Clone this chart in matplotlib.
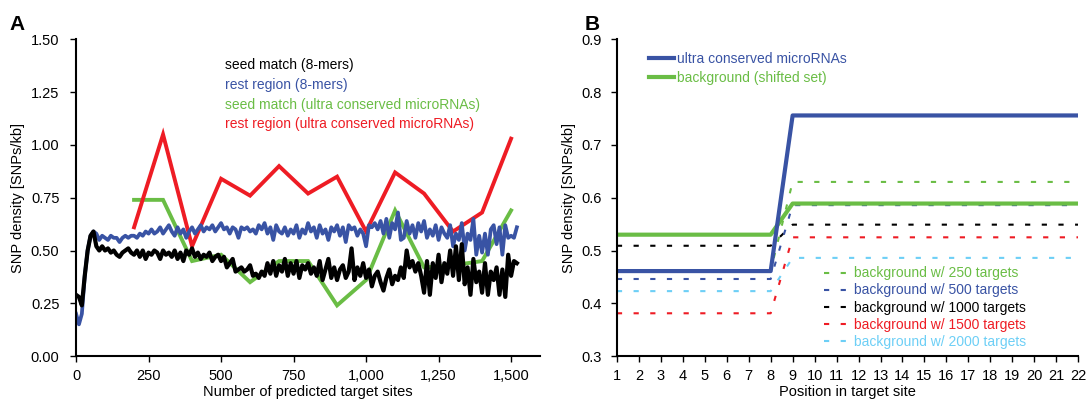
import numpy as np
import matplotlib
matplotlib.use('Agg')
from matplotlib import pyplot as plt

plt.rcParams['font.family'] = ['Liberation Sans', 'DejaVu Sans']
plt.rcParams['font.size'] = 10

# ---- panel A data ----
# sliding window over predicted target sites (8-mers), step 10
sites_8mer = np.arange(0, 1530, 10)
seed_8mer = [0.29, 0.28, 0.24, 0.38, 0.50, 0.57, 0.59, 0.52, 0.50, 0.52,
             0.50, 0.51, 0.49, 0.50, 0.48, 0.47, 0.49, 0.50, 0.51, 0.49,
             0.48, 0.50, 0.47, 0.50, 0.46, 0.49, 0.48, 0.50, 0.49, 0.46,
             0.50, 0.48, 0.49, 0.47, 0.50, 0.46, 0.49, 0.45, 0.50, 0.48,
             0.51, 0.47, 0.49, 0.46, 0.48, 0.47, 0.49, 0.45, 0.47, 0.48,
             0.45, 0.47, 0.42, 0.44, 0.46, 0.40, 0.41, 0.42, 0.40, 0.41,
             0.43, 0.38, 0.39, 0.37, 0.40, 0.38, 0.44, 0.39, 0.45, 0.38,
             0.43, 0.40, 0.46, 0.38, 0.44, 0.39, 0.45, 0.37, 0.43, 0.41,
             0.44, 0.39, 0.42, 0.38, 0.45, 0.36, 0.41, 0.46, 0.37, 0.42,
             0.36, 0.41, 0.43, 0.37, 0.40, 0.51, 0.36, 0.42, 0.38, 0.44,
             0.37, 0.41, 0.33, 0.38, 0.40, 0.35, 0.31, 0.37, 0.41, 0.34,
             0.38, 0.36, 0.42, 0.37, 0.50, 0.42, 0.45, 0.40, 0.44, 0.38,
             0.30, 0.45, 0.29, 0.44, 0.37, 0.48, 0.35, 0.44, 0.39, 0.50,
             0.38, 0.52, 0.36, 0.53, 0.34, 0.42, 0.29, 0.46, 0.35, 0.40,
             0.30, 0.44, 0.29, 0.40, 0.36, 0.42, 0.29, 0.41, 0.28, 0.48,
             0.38, 0.45, 0.44]
rest_8mer = [0.20, 0.15, 0.20, 0.38, 0.50, 0.57, 0.59, 0.58, 0.55, 0.57,
             0.56, 0.55, 0.57, 0.56, 0.56, 0.54, 0.56, 0.57, 0.56, 0.57,
             0.57, 0.56, 0.58, 0.57, 0.59, 0.58, 0.60, 0.58, 0.59, 0.61,
             0.58, 0.60, 0.62, 0.59, 0.57, 0.61, 0.58, 0.60, 0.56, 0.59,
             0.61, 0.58, 0.60, 0.62, 0.59, 0.61, 0.60, 0.62, 0.59, 0.61,
             0.63, 0.60, 0.61, 0.58, 0.61, 0.60, 0.56, 0.61, 0.60, 0.61,
             0.59, 0.60, 0.58, 0.62, 0.60, 0.63, 0.58, 0.61, 0.55, 0.62,
             0.59, 0.58, 0.61, 0.57, 0.60, 0.58, 0.62, 0.56, 0.60, 0.58,
             0.63, 0.59, 0.61, 0.56, 0.62, 0.58, 0.60, 0.55, 0.61, 0.59,
             0.62, 0.57, 0.61, 0.54, 0.62, 0.60, 0.61, 0.57, 0.60, 0.58,
             0.52, 0.62, 0.61, 0.63, 0.60, 0.64, 0.58, 0.65, 0.56, 0.63,
             0.60, 0.68, 0.55, 0.56, 0.64, 0.58, 0.62, 0.56, 0.63, 0.59,
             0.64, 0.56, 0.60, 0.57, 0.62, 0.55, 0.61, 0.58, 0.56, 0.62,
             0.52, 0.58, 0.55, 0.63, 0.50, 0.58, 0.55, 0.65, 0.48, 0.57,
             0.49, 0.58, 0.48, 0.60, 0.62, 0.53, 0.61, 0.48, 0.62, 0.56,
             0.57, 0.56, 0.61]

# ultra conserved microRNAs, step 100
sites_ucm = [200, 300, 400, 500, 600, 700, 800, 900, 1000, 1100, 1200, 1300, 1400, 1500]
seed_ucm = [0.74, 0.74, 0.45, 0.48, 0.35, 0.45, 0.45, 0.24, 0.36, 0.69, 0.42, 0.43, 0.45, 0.69]
rest_ucm = [0.61, 1.05, 0.52, 0.84, 0.76, 0.90, 0.77, 0.85, 0.59, 0.87, 0.77, 0.59, 0.68, 1.03]

# ---- panel B data ----
positions = list(range(1, 23))
ucm_pos = [0.461] * 8 + [0.756] * 14
shifted_pos = [0.530] * 8 + [0.589] * 14
bg_250 = [0.462] * 8 + [0.630] * 14
bg_500 = [0.446] * 8 + [0.586] * 14
bg_1000 = [0.509] * 8 + [0.549] * 14
bg_1500 = [0.381] * 8 + [0.525] * 14
bg_2000 = [0.423] * 8 + [0.486] * 14

blue = '#3953a4'
green = '#6abd45'
red = '#ee1c24'
cyan = '#6dcff6'

fig = plt.figure(figsize=(10.88, 4.03), dpi=100)

# ---------- A ----------
ax = fig.add_axes([0.0699, 0.1166, 0.4265, 0.7854])
ax.plot(sites_ucm, seed_ucm, color=green, lw=2.8, solid_joinstyle='miter')
ax.plot(sites_ucm, rest_ucm, color=red, lw=2.8, solid_joinstyle='miter')
ax.plot(sites_8mer, rest_8mer, color=blue, lw=2.7)
ax.plot(sites_8mer, seed_8mer, color='black', lw=3)
ax.set_xlim(0, 1600)
ax.set_ylim(0, 1.5)
ax.set_xticks([0, 250, 500, 750, 1000, 1250, 1500])
ax.set_xticklabels(['0', '250', '500', '750', '1,000', '1,250', '1,500'])
ax.set_yticks(np.arange(0, 1.51, 0.25))
ax.set_yticklabels(['%.2f' % v for v in np.arange(0, 1.51, 0.25)])
ax.set_xlabel('Number of predicted target sites', fontsize=10.5, labelpad=2)
ax.set_ylabel('SNP density [SNPs/kb]', fontsize=10.5, labelpad=4)
for s in ['top', 'right']:
    ax.spines[s].set_visible(False)
for s in ['left', 'bottom']:
    ax.spines[s].set_linewidth(1.5)
ax.tick_params(direction='out', length=4, width=1, labelsize=10.5)
ax.tick_params(axis='y', pad=8)
ax.tick_params(axis='x', pad=5)

labels_a = ['seed match (8-mers)', 'rest region (8-mers)',
            'seed match (ultra conserved microRNAs)', 'rest region (ultra conserved microRNAs)']
colors_a = ['black', blue, green, red]
for i in range(4):
    ax.text(0.322, 0.918 - i * 0.0617, labels_a[i], color=colors_a[i],
            transform=ax.transAxes, va='center', ha='left', fontsize=10)
fig.text(0.009, 0.94, 'A', fontsize=15, fontweight='bold', va='center')

# ---------- B ----------
bx = fig.add_axes([0.567, 0.1166, 0.424, 0.7854])
dash = (2.5, 5.5)
bx.plot(positions, bg_2000, color=cyan, lw=1.5, dashes=dash, label='background w/ 2000 targets')
bx.plot(positions, bg_1500, color=red, lw=1.5, dashes=dash, label='background w/ 1500 targets')
bx.plot(positions, bg_1000, color='black', lw=1.5, dashes=dash, label='background w/ 1000 targets')
bx.plot(positions, bg_500, color=blue, lw=1.5, dashes=dash, label='background w/ 500 targets')
bx.plot(positions, bg_250, color=green, lw=1.5, dashes=dash, label='background w/ 250 targets')
l1, = bx.plot(positions, shifted_pos, color=green, lw=3, label='background (shifted set)')
l2, = bx.plot(positions, ucm_pos, color=blue, lw=3, label='ultra conserved microRNAs')
bx.set_xlim(1, 22)
bx.set_ylim(0.3, 0.9)
bx.set_xticks(positions)
bx.set_yticks(np.arange(0.3, 0.91, 0.1))
bx.set_yticklabels(['%.1f' % v for v in np.arange(0.3, 0.91, 0.1)])
bx.set_xlabel('Position in target site', fontsize=10.5, labelpad=2)
bx.set_ylabel('SNP density [SNPs/kb]', fontsize=10.5, labelpad=4)
for s in ['top', 'right']:
    bx.spines[s].set_visible(False)
for s in ['left', 'bottom']:
    bx.spines[s].set_linewidth(1.5)
bx.tick_params(direction='out', length=4, width=1, labelsize=10.5)
bx.tick_params(axis='y', pad=7)
bx.tick_params(axis='x', pad=5)

leg1 = bx.legend(handles=[l2, l1], loc='upper left', bbox_to_anchor=(0.07, 0.96),
                 frameon=False, fontsize=10, labelcolor='linecolor', handlelength=1.8,
                 handletextpad=0.2, labelspacing=0.35, borderpad=0, borderaxespad=0)
bx.add_artist(leg1)
h, lab = bx.get_legend_handles_labels()
order = [4, 3, 2, 1, 0]
bx.legend([h[i] for i in order], [lab[i] for i in order], loc='upper left',
          bbox_to_anchor=(0.448, 0.283), frameon=False, fontsize=10,
          labelcolor='linecolor', handlelength=1.7, handletextpad=0.5,
          labelspacing=0.22, borderpad=0, borderaxespad=0)
fig.text(0.537, 0.94, 'B', fontsize=15, fontweight='bold', va='center')

fig.savefig('out.png', dpi=100)
